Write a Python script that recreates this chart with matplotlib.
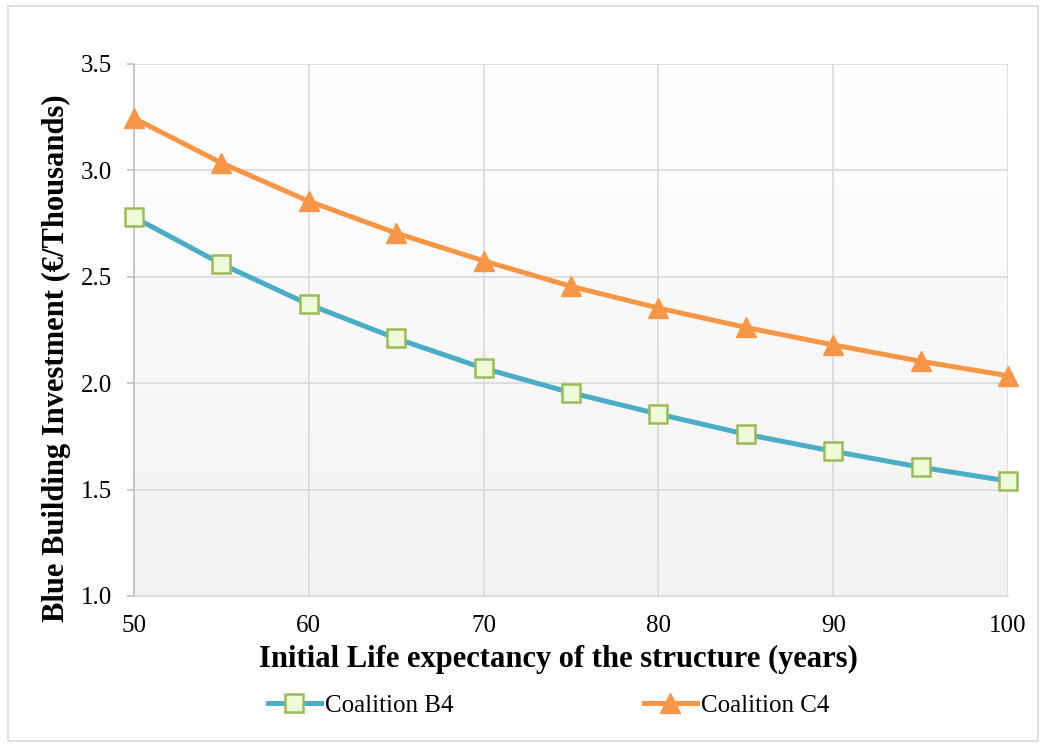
import numpy as np
import matplotlib
matplotlib.use("Agg")
import matplotlib.pyplot as plt
from matplotlib.patches import Rectangle

plt.rcParams['font.family'] = ['Liberation Serif', 'DejaVu Serif']

# data
years = [50, 55, 60, 65, 70, 75, 80, 85, 90, 95, 100]
coalition_b4 = [2.78, 2.56, 2.37, 2.21, 2.07, 1.955, 1.855, 1.76, 1.68, 1.605, 1.54]
coalition_c4 = [3.245, 3.035, 2.855, 2.705, 2.575, 2.455, 2.353, 2.262, 2.18, 2.103, 2.035]

fig = plt.figure(figsize=(10.44, 7.44), dpi=100)
ax = fig.add_axes([0.1284, 0.199, 0.8371, 0.715])

# outer frame of the chart
fig.patches.append(Rectangle((8/1044, 3/744), 1030/1044, 735/744, transform=fig.transFigure,
                             fill=False, edgecolor='#d9d9d9', linewidth=1.2))

# gradient background in plot area
grad = np.linspace(0, 1, 256).reshape(-1, 1)
ax.imshow(grad, extent=[50, 100, 1.0, 3.5], aspect='auto', origin='lower',
          cmap=matplotlib.colors.LinearSegmentedColormap.from_list('bg', ['#f2f2f2', '#ffffff']),
          zorder=0)

ax.plot(years, coalition_b4, color='#4bacc6', linewidth=3.6, marker='s', markersize=13,
        markerfacecolor='#effad8', markeredgecolor='#9bbb59', markeredgewidth=1.8,
        label='Coalition B4', zorder=3, clip_on=False)
ax.plot(years, coalition_c4, color='#f79646', linewidth=3.6, marker='^', markersize=14,
        markerfacecolor='#f79646', markeredgecolor='#f79646',
        label='Coalition C4', zorder=3, clip_on=False)

ax.set_xlim(50, 100)
ax.set_ylim(1.0, 3.5)
ax.set_xticks(range(50, 101, 10))
ax.set_yticks(np.arange(1.0, 3.51, 0.5))
ax.yaxis.set_major_formatter(matplotlib.ticker.FormatStrFormatter('%.1f'))
ax.grid(True, color='#d9d9d9', linewidth=1.2, zorder=1)
ax.set_axisbelow(True)
for s in ['top', 'right']:
    ax.spines[s].set_visible(False)
ax.spines['left'].set_color('#bfbfbf')
ax.spines['bottom'].set_color('#d9d9d9')
ax.spines['left'].set_linewidth(1.2)
ax.tick_params(axis='y', colors='#bfbfbf', labelcolor='black', labelsize=18, length=5, width=1.2, pad=11)
ax.tick_params(axis='x', length=0, labelsize=18, pad=14)

ax.set_xlabel('Initial Life expectancy of the structure (years)', fontsize=22, fontweight='bold', va='center')
ax.set_ylabel('Blue Building Investment (€/Thousands)', fontsize=22, fontweight='bold', va='center')
ax.xaxis.set_label_coords(0.486, -0.12)
ax.yaxis.set_label_coords(-0.0885, 0.447)

fig.legend(loc='center', bbox_to_anchor=(0.5254, 0.052), ncol=2, frameon=False, fontsize=18,
           columnspacing=7.6, handlelength=2.15, handletextpad=0.15)

fig.savefig('out.png', dpi=100)
